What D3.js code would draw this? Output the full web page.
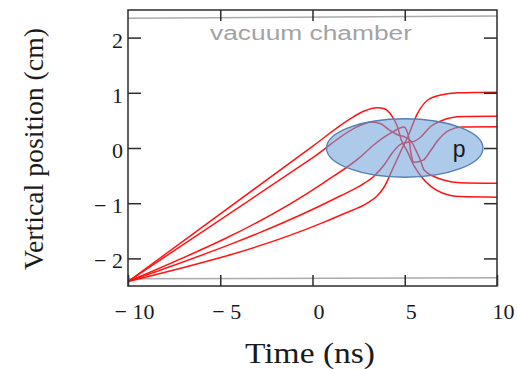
<!DOCTYPE html>
<html>
<head>
<meta charset="utf-8">
<script src="https://cdn.jsdelivr.net/npm/d3@7"></script>
<style>
  body { margin: 0; background: #fff; }
</style>
</head>
<body>
<div id="chart"></div>
<script>
// axis ticks
const xTicks = [-10, -5, 0, 5, 10];
const yTicks = [-2, -1, 0, 1, 2];

// vacuum chamber walls (time, cm)
const chamberTop = [[-10, 2.35], [10, 2.39]];
const chamberBottom = [[-10, -2.37], [10, -2.35]];

// trajectories (time ns, vertical position cm)
const traj1 = [[-10, -2.42], [0, 0.03], [2, 0.52], [2.8, 0.67], [3.5, 0.73], [3.9, 0.71], [4.3, 0.58], [4.6, 0.39], [4.8, 0.16], [5.15, -0.07], [5.5, -0.32], [5.9, -0.52], [6.4, -0.69], [7, -0.81], [8, -0.88], [10, -0.89]];
const traj2 = [[-10, -2.42], [0, -0.18], [2.6, 0.41], [3.2, 0.47], [3.7, 0.44], [4.1, 0.34], [4.6, 0.24], [5, 0.2], [5.35, 0.12], [5.6, -0.04], [5.8, -0.18], [6.05, -0.4], [6.6, -0.52], [7.1, -0.58], [8, -0.63], [10, -0.64]];
const traj3 = [[-10, -2.42], [0.6, -0.63], [2.6, -0.16], [3.3, 0.05], [3.9, 0.2], [4.4, 0.3], [4.95, 0.38], [5.2, 0.22], [5.35, -0.12], [5.5, -0.26], [6, -0.22], [6.4, -0.05], [6.8, 0.14], [7.4, 0.32], [8.1, 0.38], [10, 0.385]];
const traj4 = [[-10, -2.42], [1.5, -0.87], [2.6, -0.68], [3.3, -0.52], [3.9, -0.3], [4.3, -0.1], [4.7, 0.05], [5.1, 0.1], [5.5, 0.12], [5.87, 0.2], [6.4, 0.39], [6.96, 0.49], [7.5, 0.55], [8.3, 0.57], [10, 0.575]];
const traj5 = [[-10, -2.42], [0.43, -1.37], [1.7, -1.19], [2.97, -1.0], [3.5, -0.87], [3.86, -0.72], [4.4, -0.34], [4.8, -0.05], [5.16, 0.2], [5.7, 0.63], [6.25, 0.87], [6.96, 0.96], [7.9, 1.0], [10, 1.01]];

// proton bunch: centre and half widths (ns, cm)
const bunchCentre = [5, 0];
const bunchRadius = [4.24, 0.53];

function drawChart() {
  const width = 518, height = 369;
  const left = 128, right = 497, top = 10, bottom = 286;

  const x = d3.scaleLinear().domain([-10, 10]).range([left, right]);
  const y = d3.scaleLinear().domain([-2.5, 2.5]).range([bottom, top]);

  const svg = d3.select("#chart")
    .append("svg")
    .attr("width", width)
    .attr("height", height);

  svg.append("defs").append("clipPath")
    .attr("id", "plotClip")
    .append("rect")
    .attr("x", left).attr("y", top)
    .attr("width", right - left).attr("height", bottom - top);

  const line = d3.line()
    .x(d => x(d[0]))
    .y(d => y(d[1]));

  // chamber walls
  const walls = svg.append("g").attr("clip-path", "url(#plotClip)");
  [chamberTop, chamberBottom].forEach(w => {
    walls.append("path")
      .attr("d", line(w))
      .attr("fill", "none")
      .attr("stroke", "#aaaaaa")
      .attr("stroke-width", 1.6);
  });

  // trajectories
  const curve = d3.line()
    .x(d => x(d[0]))
    .y(d => y(d[1]))
    .curve(d3.curveMonotoneX);

  const plot = svg.append("g").attr("clip-path", "url(#plotClip)");
  [traj1, traj2, traj3, traj4, traj5].forEach(t => {
    plot.append("path")
      .attr("d", curve(t))
      .attr("fill", "none")
      .attr("stroke", "#ff1414")
      .attr("stroke-width", 1.5);
  });

  // the bunch sits over the lines, half transparent
  plot.append("ellipse")
    .attr("cx", x(bunchCentre[0]))
    .attr("cy", y(bunchCentre[1]))
    .attr("rx", x(bunchCentre[0] + bunchRadius[0]) - x(bunchCentre[0]))
    .attr("ry", y(bunchCentre[1]) - y(bunchCentre[1] + bunchRadius[1]))
    .attr("fill", "#6a9fd8")
    .attr("fill-opacity", 0.55)
    .attr("stroke", "#5580b2")
    .attr("stroke-width", 1.3);

  svg.append("text")
    .attr("x", x(7.6))
    .attr("y", y(-0.16))
    .attr("font-family", "Liberation Sans, Arial, sans-serif")
    .attr("font-size", 23)
    .attr("fill", "#1a1a1a")
    .text("p");

  svg.append("text")
    .attr("x", 210)
    .attr("y", 40)
    .attr("font-family", "Liberation Sans, Arial, sans-serif")
    .attr("font-size", 20)
    .attr("fill", "#a3a3a3")
    .attr("textLength", 202)
    .attr("lengthAdjust", "spacingAndGlyphs")
    .text("vacuum chamber");

  // frame
  svg.append("rect")
    .attr("x", left).attr("y", top)
    .attr("width", right - left).attr("height", bottom - top)
    .attr("fill", "none")
    .attr("stroke", "#2b2b2b")
    .attr("stroke-width", 1.5);

  // inward ticks on all four sides
  const fmt = d => d < 0 ? "\u2212 " + Math.abs(d) : String(d);
  const tickFont = "Liberation Serif, Times New Roman, serif";

  svg.append("g")
    .attr("transform", "translate(0," + bottom + ")")
    .call(d3.axisBottom(x).tickValues(xTicks).tickSize(-11).tickPadding(17).tickFormat(fmt))
    .call(g => g.select(".domain").remove())
    .call(g => g.selectAll("text").attr("dx", 6).attr("font-size", 22).attr("font-family", tickFont).attr("fill", "#1a1a1a"));

  svg.append("g")
    .attr("transform", "translate(0," + top + ")")
    .call(d3.axisTop(x).tickValues(xTicks.slice(1, -1)).tickSize(-11).tickFormat(""))
    .call(g => g.select(".domain").remove());

  svg.append("g")
    .attr("transform", "translate(" + left + ",0)")
    .call(d3.axisLeft(y).tickValues(yTicks).tickSize(-13).tickPadding(5).tickFormat(fmt))
    .call(g => g.select(".domain").remove())
    .call(g => g.selectAll("text").attr("dy", "0.43em").attr("font-size", 22).attr("font-family", tickFont).attr("fill", "#1a1a1a"));

  svg.append("g")
    .attr("transform", "translate(" + right + ",0)")
    .call(d3.axisRight(y).tickValues(yTicks).tickSize(-13).tickFormat(""))
    .call(g => g.select(".domain").remove());

  svg.selectAll(".tick line")
    .attr("stroke", "#2b2b2b")
    .attr("stroke-width", 1.5);

  // axis titles
  svg.append("text")
    .attr("x", 310)
    .attr("y", 363)
    .attr("text-anchor", "middle")
    .attr("font-family", tickFont)
    .attr("font-size", 29)
    .attr("fill", "#1a1a1a")
    .attr("textLength", 130)
    .attr("lengthAdjust", "spacingAndGlyphs")
    .text("Time (ns)");

  svg.append("text")
    .attr("transform", "translate(43,149) rotate(-90)")
    .attr("text-anchor", "middle")
    .attr("font-family", tickFont)
    .attr("font-size", 28)
    .attr("fill", "#1a1a1a")
    .attr("textLength", 242)
    .attr("lengthAdjust", "spacingAndGlyphs")
    .text("Vertical position (cm)");
}

drawChart();
</script>
</body>
</html>
